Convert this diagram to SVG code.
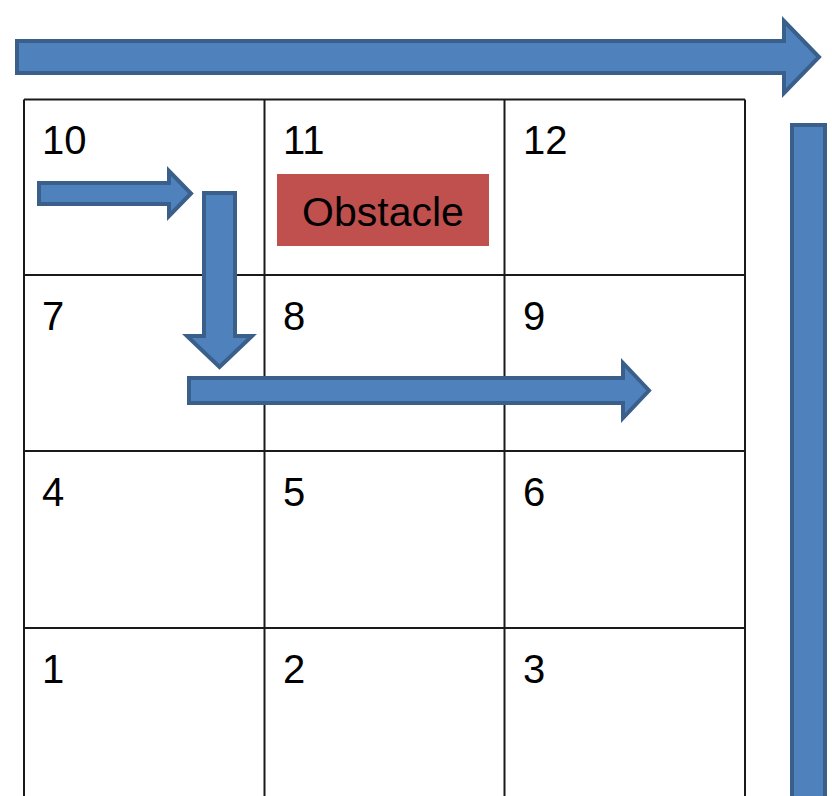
<svg xmlns="http://www.w3.org/2000/svg" width="832" height="796" viewBox="0 0 832 796">
<style>
.grid{stroke:#1a1a1a;stroke-width:2;fill:none}
.num{font-family:"Liberation Sans",Arial,sans-serif;font-size:40px;fill:#000}
.arrow{fill:#4F81BD;stroke:#3A5F8B;stroke-width:4;stroke-linejoin:miter}
.obs{fill:#C0504D}
.obstxt{font-family:"Liberation Sans",Arial,sans-serif;font-size:41px;fill:#000;text-anchor:middle}
</style>
<rect width="832" height="796" fill="#fff"/>
<g id="grid">
<path class="grid" d="M24,99.5 H745 M24,275 H745 M24,451 H745 M24,628 H745 M24,99.5 V800 M264.5,99.5 V800 M504.5,99.5 V800 M745,99.5 V800"/>
</g>
<g id="cell10"><text class="num" x="42" y="154">10</text></g>
<g id="cell11"><text class="num" x="283" y="154">11</text></g>
<g id="cell12"><text class="num" x="523" y="154">12</text></g>
<g id="cell7"><text class="num" x="42" y="330">7</text></g>
<g id="cell8"><text class="num" x="283" y="330">8</text></g>
<g id="cell9"><text class="num" x="523" y="330">9</text></g>
<g id="cell4"><text class="num" x="42" y="506">4</text></g>
<g id="cell5"><text class="num" x="283" y="506">5</text></g>
<g id="cell6"><text class="num" x="523" y="506">6</text></g>
<g id="cell1"><text class="num" x="42" y="683">1</text></g>
<g id="cell2"><text class="num" x="283" y="683">2</text></g>
<g id="cell3"><text class="num" x="523" y="683">3</text></g>
<g id="obstacle">
<rect class="obs" x="277" y="174" width="212" height="72"/>
<text class="obstxt" x="383" y="226">Obstacle</text>
</g>
<g id="connectors">
<path class="arrow" d="M17,41 H784 V21 L819,57 L784,93 V73 H17 Z"/>
<path class="arrow" d="M39,183 H169 V171 L191,193.5 L169,216 V204 H39 Z"/>
<path class="arrow" d="M204,193 H235 V336 H252 L219.5,367 L187,336 H204 Z"/>
<path class="arrow" d="M189,378 H623 V363 L649,390.5 L623,418 V403 H189 Z"/>
<path class="arrow" d="M792,125 H825 V805 H792 Z"/>
</g>
</svg>
